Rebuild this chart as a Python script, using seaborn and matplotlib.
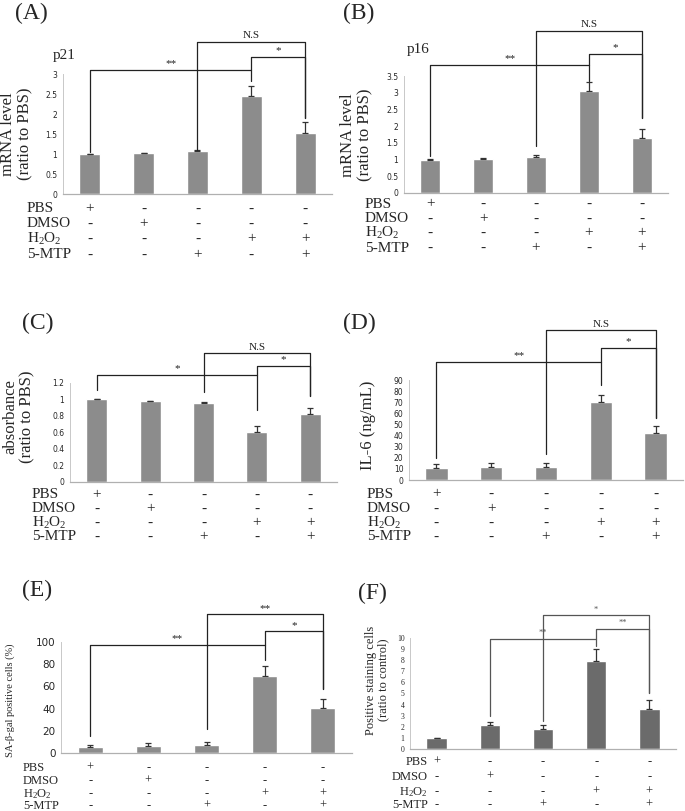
import matplotlib
matplotlib.use("Agg")
import matplotlib.pyplot as plt
import matplotlib.transforms as mtransforms
import numpy as np
import pandas as pd
import seaborn as sns

# ---- data ----
groups = ["g1", "g2", "g3", "g4", "g5"]
row_names = ["PBS", "DMSO", r"H$_2$O$_2$", "5-MTP"]
signs = [
    ["+", "-", "-", "-", "-"],
    ["-", "+", "-", "-", "-"],
    ["-", "-", "-", "+", "+"],
    ["-", "-", "+", "-", "+"],
]

p21_mean = [1.00, 1.02, 1.07, 2.46, 1.53]
p21_err = [0.01, 0.01, 0.02, 0.25, 0.27]
p16_mean = [1.00, 1.03, 1.08, 3.05, 1.65]
p16_err = [0.02, 0.03, 0.07, 0.27, 0.26]
abs_mean = [1.00, 0.98, 0.96, 0.60, 0.83]
abs_err = [0.005, 0.005, 0.01, 0.08, 0.07]
il6_mean = [10.5, 12.0, 12.0, 70.5, 42.0]
il6_err = [3.5, 3.0, 3.0, 6.0, 7.0]
sagal_mean = [5.4, 6.6, 6.9, 69.6, 40.9]
sagal_err = [2.1, 2.4, 3.1, 9.2, 8.1]
stain_mean = [0.95, 2.18, 1.79, 7.94, 3.58]
stain_err = [0.06, 0.24, 0.36, 1.10, 0.84]

# brackets: (label, left bar, right bar, top, low left, low right)
br_a = [("**", 0, 3, 3.10, 1.06, 2.83), ("N.S", 2, 4, 3.81, 1.11, 1.90), ("*", 3, 4, 3.43, 3.10, 1.90)]
br_b = [("**", 0, 3, 3.82, 1.10, 3.36), ("N.S", 2, 4, 4.84, 1.40, 2.24), ("*", 3, 4, 4.16, 3.82, 2.24)]
br_c = [("*", 0, 3, 1.30, 1.12, 0.87), ("N.S", 2, 4, 1.56, 1.09, 1.04), ("*", 3, 4, 1.41, 1.30, 1.04)]
br_d = [("**", 0, 3, 106.5, 19.5, 85.5), ("N.S", 2, 4, 135, 23.4, 56), ("*", 3, 4, 119, 106.5, 56)]
br_e = [("**", 0, 3, 97.6, 15.5, 84.2), ("**", 2, 4, 124.8, 21.5, 57.6), ("*", 3, 4, 109.6, 97.6, 57.6)]
br_f = [("**", 1, 3, 9.94, 2.93, 9.25), ("*", 2, 4, 12.03, 2.54, 5.07), ("**", 3, 4, 10.84, 9.94, 5.07)]

sns.set_style("white")
plt.rcParams["font.family"] = ["Liberation Serif", "DejaVu Serif"]
plt.rcParams["mathtext.fontset"] = "custom"
plt.rcParams["mathtext.rm"] = "Liberation Serif"
plt.rcParams["mathtext.it"] = "Liberation Serif:italic"

W, H = 685, 811
fig = plt.figure(figsize=(W / 100, H / 100), dpi=100)


def px(x, y):
    return x / W, 1 - y / H


def panel(box, mean, err, ymax, step, fmt, brackets, color="#8c8c8c", width=0.39,
          tick_font="DejaVu Sans", tick_size=5.5, br_color="#222222", br_size=8):
    l, t, r, b = box
    ax = fig.add_axes([l / W, 1 - b / H, (r - l) / W, (b - t) / H])
    df = pd.DataFrame({"group": groups, "value": mean})
    sns.barplot(data=df, x="group", y="value", color=color, saturation=1,
                width=width, errorbar=None, ax=ax)
    ax.errorbar(range(5), mean, yerr=[np.zeros(5), err], fmt="none",
                ecolor="#333333", elinewidth=0.9, capsize=2.5, capthick=0.9)
    ax.set_xlim(-0.5, 4.5)
    ax.set_ylim(0, ymax)
    ticks = np.arange(0, ymax + step / 2, step)
    ax.set_yticks(ticks)
    ax.set_yticklabels([fmt(v) for v in ticks], fontsize=tick_size, family=tick_font)
    ax.set_xticks([])
    ax.set_xlabel("")
    ax.set_ylabel("")
    for s in ["top", "right"]:
        ax.spines[s].set_visible(False)
    ax.spines["left"].set_color("#c8c8c8")
    ax.spines["bottom"].set_color("#b0b0b0")
    ax.spines["left"].set_linewidth(0.7)
    ax.spines["bottom"].set_linewidth(0.9)
    ax.tick_params(axis="y", length=2, width=0.6, color="#c8c8c8", pad=2)
    for lab, x1, x2, top, lo1, lo2 in brackets:
        ax.plot([x1, x1, x2, x2], [lo1, top, top, lo2], color=br_color, lw=0.9, clip_on=False)
        ax.text((x1 + x2) / 2, top + ymax * 0.015, lab, ha="center", va="bottom",
                fontsize=br_size, color=br_color, clip_on=False)
    return ax


def conditions(ax, rows_y, label_x, size=11, align="left"):
    for i, name in enumerate(row_names):
        fx, fy = px(label_x, rows_y[i])
        fig.text(fx, fy, name, ha=align, va="center", fontsize=size)
        trans = mtransforms.blended_transform_factory(ax.transData, fig.transFigure)
        for j, s in enumerate(signs[i]):
            ax.text(j, fy, s, transform=trans, ha="center", va="center",
                    fontsize=size, clip_on=False)


def ftext(x, y, s, **kw):
    fx, fy = px(x, y)
    fig.text(fx, fy, s, **kw)


def num(v):
    return f"{v:g}"


# (A)
ax = panel((63, 74, 332, 194), p21_mean, p21_err, 3, 0.5, num, br_a)
conditions(ax, [209, 224, 239, 255], 27)
ftext(15, 13, "(A)", fontsize=17, va="center")
ftext(53, 55, "p21", fontsize=11, va="center")
ftext(17, 134, "mRNA level\n(ratio to PBS)", fontsize=12, rotation=90,
      ha="center", va="center", multialignment="center", linespacing=1.1)

# (B)
ax = panel((404, 76, 668, 193), p16_mean, p16_err, 3.5, 0.5, num, br_b, width=0.38)
conditions(ax, [204, 219, 233, 248], 365)
ftext(343, 13, "(B)", fontsize=17, va="center")
ftext(407, 50, "p16", fontsize=11, va="center")
ftext(357, 135, "mRNA level\n(ratio to PBS)", fontsize=12, rotation=90,
      ha="center", va="center", multialignment="center", linespacing=1.1)

# (C)
ax = panel((70, 383, 337, 482), abs_mean, abs_err, 1.2, 0.2, num, br_c)
conditions(ax, [495, 509, 523, 537], 32)
ftext(22, 323, "(C)", fontsize=17, va="center")
ftext(19, 417, "absorbance\n(ratio to PBS)", fontsize=12, rotation=90,
      ha="center", va="center", multialignment="center", linespacing=1.1)

# (D)
ax = panel((409, 380, 683, 480), il6_mean, il6_err, 90, 10, num, br_d, width=0.41)
conditions(ax, [494, 509, 523, 537], 367)
ftext(343, 323, "(D)", fontsize=17, va="center")
ftext(368, 425, "IL-6 (ng/mL)", fontsize=12, rotation=90, ha="center", va="center")

# (E)
ax = panel((61, 642, 352, 753), sagal_mean, sagal_err, 100, 20, num, br_e,
           width=0.43, tick_size=7.5)
conditions(ax, [768, 781, 794, 806], 23, size=9)
ftext(22, 590, "(E)", fontsize=17, va="center")
ftext(10, 700, "SA-\u03b2-gal positive cells (%)", fontsize=7.5, rotation=90,
      ha="center", va="center")

# (F)
ax = panel((410, 638, 676, 749), stain_mean, stain_err, 10, 1, num, br_f,
           color="#6b6b6b", width=0.38, tick_font="Liberation Serif", tick_size=5.5,
           br_color="#555555", br_size=6)
conditions(ax, [762, 777, 792, 805], 428, size=9, align="right")
ftext(358, 593, "(F)", fontsize=17, va="center")
ftext(377, 680, "Positive staining cells\n(ratio to control)", fontsize=9, rotation=90,
      ha="center", va="center", multialignment="center", linespacing=1.1)

fig.savefig("out.png", dpi=100, facecolor="white")
